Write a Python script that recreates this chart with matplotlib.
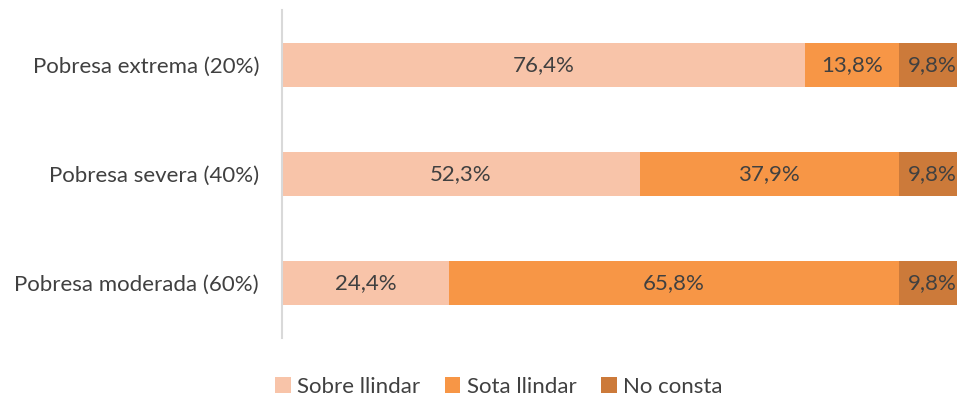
import matplotlib
matplotlib.use("Agg")
import matplotlib.pyplot as plt
from matplotlib.patches import Patch

categories = ["Pobresa extrema (20%)", "Pobresa severa (40%)", "Pobresa moderada (60%)"]
series_names = ["Sobre llindar", "Sota llindar", "No consta"]
sobre = [76.4, 52.3, 24.4]
sota = [13.8, 37.9, 65.8]
no_consta = [9.8, 9.8, 9.8]
colors = ["#F8C4A9", "#F79646", "#CC7A3A"]

plt.rcParams['font.family'] = ['Lato', 'DejaVu Sans']
fig = plt.figure(figsize=(9.57, 4.0), dpi=100)
ax = fig.add_axes([282/957, 1-338/400, 684/957, 328/400])

ypos = [2, 1, 0]
left = [0, 0, 0]
for vals, col in zip([sobre, sota, no_consta], colors):
    ax.barh(ypos, vals, left=left, height=0.405, color=col)
    for y, v, l in zip(ypos, vals, left):
        ax.text(l + v/2, y, f"{v:.1f}%".replace(".", ","), ha="center", va="center",
                fontsize=16, color="#404040", clip_on=False)
    left = [a + b for a, b in zip(left, vals)]

ax.set_xlim(0, 100)
ax.set_ylim(-0.5, 2.5)
ax.set_yticks(ypos)
ax.set_yticklabels(categories, fontsize=16, color="#404040")
ax.tick_params(axis="y", length=0, pad=16.5)
ax.set_xticks([])
for s in ["top", "right", "bottom"]:
    ax.spines[s].set_visible(False)
ax.spines["left"].set_color("#D9D9D9")
ax.spines["left"].set_linewidth(1.5)

handles = [Patch(facecolor=c, label=n) for c, n in zip(colors, series_names)]
fig.legend(handles=handles, loc="center", bbox_to_anchor=(499/957, 1-387/400), ncol=3,
           frameon=False, fontsize=16, labelcolor="#404040", handlelength=0.7, handleheight=0.7,
           handletextpad=0.3, columnspacing=1.1)

fig.savefig("out.png", dpi=100)
